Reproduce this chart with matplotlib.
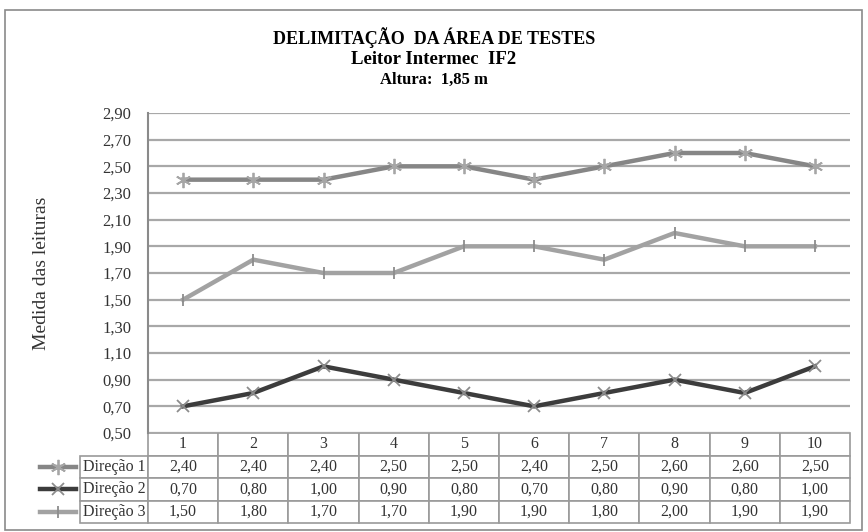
import numpy as np
import matplotlib
matplotlib.use("Agg")
from matplotlib import pyplot as plt
from matplotlib.lines import Line2D
from matplotlib.patches import Rectangle

plt.rcParams['font.family'] = ['Liberation Serif', 'DejaVu Serif']

# Leituras medias por ponto de teste
pontos = ['1', '2', '3', '4', '5', '6', '7', '8', '9', '10']
direcao_1 = [2.40, 2.40, 2.40, 2.50, 2.50, 2.40, 2.50, 2.60, 2.60, 2.50]
direcao_2 = [0.70, 0.80, 1.00, 0.90, 0.80, 0.70, 0.80, 0.90, 0.80, 1.00]
direcao_3 = [1.50, 1.80, 1.70, 1.70, 1.90, 1.90, 1.80, 2.00, 1.90, 1.90]
nomes = ['Direção 1', 'Direção 2', 'Direção 3']
y_ticks = [0.5, 0.7, 0.9, 1.1, 1.3, 1.5, 1.7, 1.9, 2.1, 2.3, 2.5, 2.7, 2.9]

# estilo de cada serie: cor da linha, marcador, cor do marcador, tamanho
estilos = [
    ('#868686', (6, 2, 0), '#a6a6a6', 11),
    ('#3c3c3c', 'x', '#8c8c8c', 9),
    ('#a2a2a2', '|', '#8c8c8c', 9),
]

W, H = 868, 532
fig = plt.figure(figsize=(W / 100, H / 100), dpi=100)

# moldura externa do grafico
fig.patches.append(Rectangle((5 / W, 2 / H), 857 / W, 520 / H,
                             transform=fig.transFigure, fill=False,
                             edgecolor='#8a8a8a', linewidth=1.2))

left, right, top, bottom = 148, 850, 113, 433
ax = fig.add_axes([left / W, (H - bottom) / H, (right - left) / W,
                   (bottom - top) / H])

x = np.arange(len(pontos))
series = [direcao_1, direcao_2, direcao_3]
for valores, (cor, marc, cor_m, ms) in zip(series, estilos):
    ax.plot(x, valores, color=cor, linewidth=3.2, marker=marc,
            markersize=ms, markeredgecolor=cor_m, markerfacecolor=cor_m,
            markeredgewidth=1.3, solid_joinstyle='miter', zorder=3)

ax.set_xlim(-0.5, len(pontos) - 0.5)
ax.set_ylim(0.5, 2.9)
ax.set_yticks(y_ticks)
ax.set_yticklabels([f'{v:.2f}'.replace('.', ',') for v in y_ticks],
                   fontsize=12, color='#333333')
ax.tick_params(axis='y', length=0, pad=12)
ax.set_xticks([])
ax.grid(axis='y', color='#a8a8a8', linewidth=1.6)
ax.set_axisbelow(True)
for lado in ['top', 'right', 'bottom']:
    ax.spines[lado].set_visible(False)
ax.spines['left'].set_color('#8a8a8a')
ax.spines['left'].set_linewidth(1.5)

ax.set_ylabel('Medida das leituras', fontsize=14, color='#333333')
ax.yaxis.set_label_coords((50 - left) / (right - left), 0.5)

# titulo em tres linhas
fig.text(0.5, 1 - 38 / H, 'DELIMITAÇÃO  DA ÁREA DE TESTES', ha='center',
         va='center', fontsize=13, fontweight='bold')
fig.text(0.5, 1 - 59 / H, 'Leitor Intermec  IF2', ha='center',
         va='center', fontsize=13.5, fontweight='bold')
fig.text(0.5, 1 - 80 / H, 'Altura:  1,85 m', ha='center',
         va='center', fontsize=12, fontweight='bold')

# tabela de dados abaixo do grafico (bbox vale so para as celulas de dados)
texto_celulas = [[f'{v:.2f}'.replace('.', ',') for v in s] for s in series]
tab_left = 35
tab_bottom = 523
alt_tab = (tab_bottom - bottom) / (bottom - top)
tabela = ax.table(cellText=texto_celulas, rowLabels=nomes,
                  colLabels=pontos, cellLoc='center', rowLoc='right',
                  bbox=[0, -alt_tab, 1, alt_tab])
tabela.auto_set_font_size(False)
larg_col = 1 / len(pontos)
larg_rotulo = (left - tab_left) / (right - left)
for (r, c), cel in tabela.get_celld().items():
    cel.set_edgecolor('#9a9a9a')
    cel.set_linewidth(1.2)
    cel.set_height(0.25)
    cel.set_width(larg_rotulo if c == -1 else larg_col)
    cel.get_text().set_fontsize(11.5)
    cel.get_text().set_color('#333333')
    if c == -1:
        cel.PAD = 0.04

# amostras da legenda dentro dos rotulos da tabela
row_h = (tab_bottom - bottom) / 4
for i, (cor, marc, cor_m, ms) in enumerate(estilos):
    yc = bottom + row_h * (i + 1.5)
    ya = (bottom - yc) / (bottom - top)
    x0 = (40 - left) / (right - left)
    x1 = (76 - left) / (right - left)
    ax.add_line(Line2D([x0, x1], [ya, ya], transform=ax.transAxes,
                       color=cor, linewidth=3.2, clip_on=False, zorder=5))
    ax.add_line(Line2D([(x0 + x1) / 2], [ya], transform=ax.transAxes,
                       marker=marc, markersize=ms, markeredgecolor=cor_m,
                       markerfacecolor=cor_m, markeredgewidth=1.3,
                       linestyle='none', clip_on=False, zorder=6))

fig.savefig('out.png', dpi=100)
